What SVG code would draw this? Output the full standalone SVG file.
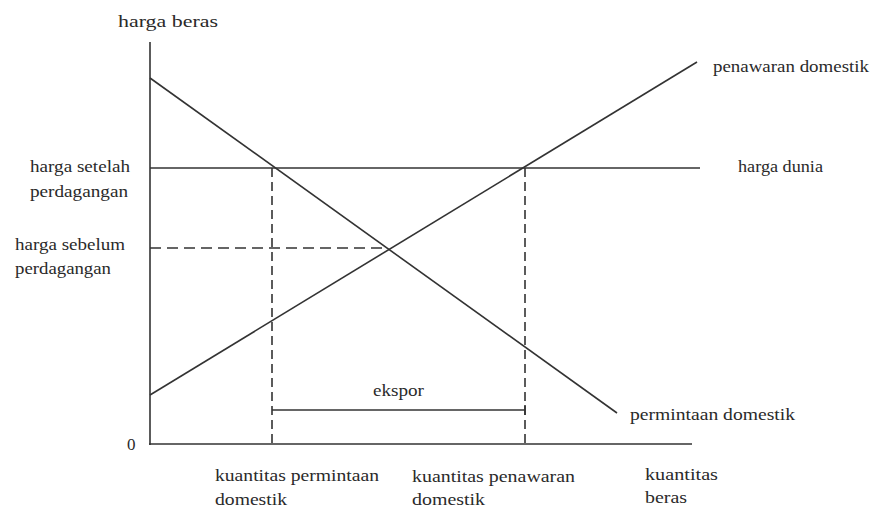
<svg xmlns="http://www.w3.org/2000/svg" width="878" height="510" viewBox="0 0 878 510">
<style>
text{font-family:"Liberation Serif","Times New Roman","DejaVu Serif","Noto Serif",Tinos,serif;font-size:17px;fill:#2a2a2a}
.ln{stroke:#333;stroke-width:1.6;fill:none}
.dv{stroke:#333;stroke-width:1.6;fill:none;stroke-dasharray:9 5}
.dh{stroke:#333;stroke-width:1.6;fill:none;stroke-dasharray:11 6}
</style>
<rect width="878" height="510" fill="#fff"/>
<g id="axes">
<line class="ln" x1="150" y1="42" x2="150" y2="445"/>
<line class="ln" x1="149" y1="444" x2="692" y2="444"/>
</g>
<g id="connectors">
<line class="ln" id="world-price" x1="150" y1="168" x2="700" y2="168"/>
<line class="ln" id="demand" x1="150" y1="78" x2="617" y2="413"/>
<line class="ln" id="supply" x1="150" y1="395" x2="697" y2="62"/>
<line class="dh" x1="150" y1="248" x2="388" y2="248"/>
<line class="dv" x1="272" y1="168" x2="272" y2="444"/>
<line class="dv" x1="525" y1="168" x2="525" y2="444"/>
<line class="ln" x1="272" y1="410" x2="525" y2="410"/>
<line class="ln" x1="525" y1="405" x2="525" y2="415"/>
</g>
<g id="labels">
<text x="118" y="27" textLength="100" lengthAdjust="spacingAndGlyphs">harga beras</text>
<text x="30" y="172" textLength="100" lengthAdjust="spacingAndGlyphs">harga setelah</text>
<text x="30" y="197" textLength="98" lengthAdjust="spacingAndGlyphs">perdagangan</text>
<text x="15" y="250" textLength="110" lengthAdjust="spacingAndGlyphs">harga sebelum</text>
<text x="15" y="274" textLength="96" lengthAdjust="spacingAndGlyphs">perdagangan</text>
<text x="127" y="450">0</text>
<text x="215" y="481" textLength="164" lengthAdjust="spacingAndGlyphs">kuantitas permintaan</text>
<text x="215" y="505" textLength="72" lengthAdjust="spacingAndGlyphs">domestik</text>
<text x="412" y="482" textLength="163" lengthAdjust="spacingAndGlyphs">kuantitas penawaran</text>
<text x="412" y="505" textLength="73" lengthAdjust="spacingAndGlyphs">domestik</text>
<text x="645" y="480" textLength="73" lengthAdjust="spacingAndGlyphs">kuantitas</text>
<text x="645" y="503" textLength="42" lengthAdjust="spacingAndGlyphs">beras</text>
<text x="713" y="72" textLength="156" lengthAdjust="spacingAndGlyphs">penawaran domestik</text>
<text x="738" y="172" textLength="85" lengthAdjust="spacingAndGlyphs">harga dunia</text>
<text x="630" y="420" textLength="165" lengthAdjust="spacingAndGlyphs">permintaan domestik</text>
<text x="373" y="396" textLength="51" lengthAdjust="spacingAndGlyphs">ekspor</text>
</g>
</svg>
